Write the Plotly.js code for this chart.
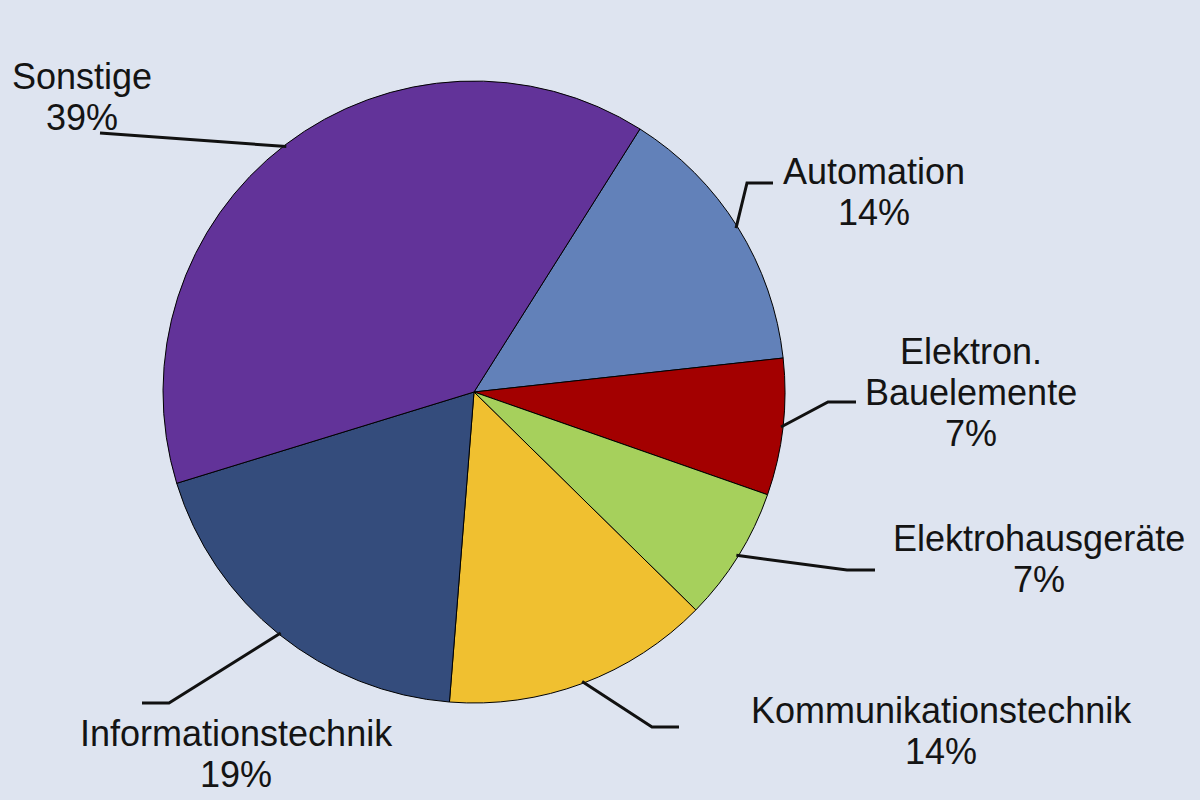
<!DOCTYPE html>
<html>
<head>
<meta charset="utf-8">
<script src="https://cdn.plot.ly/plotly-3.0.1.min.js"></script>
<style>html,body{margin:0;padding:0;background:#dee4f0;}#chart{width:1200px;height:800px;}</style>
</head>
<body>
<div id="chart"></div>
<script>
// Data
var labels = ["Automation", "Elektron. Bauelemente", "Elektrohausgeräte", "Kommunikationstechnik", "Informationstechnik", "Sonstige"];
var labelLines = [["Automation"], ["Elektron.", "Bauelemente"], ["Elektrohausgeräte"], ["Kommunikationstechnik"], ["Informationstechnik"], ["Sonstige"]];
var values = [14.3, 7.1, 7.0, 13.9, 19.0, 38.7];
var colors = ["#6281b9", "#a30000", "#a6d05c", "#f0c030", "#344c7c", "#623399"];

// Layout constants (pixels)
var W = 1200, H = 800;
var cx = 474, cy = 392, R = 311;
var rotation = 32.25;
// label placement: first-line baseline, centre x
var labelPos = [
  {x: 874, y: 183},
  {x: 971, y: 363},
  {x: 1039, y: 550},
  {x: 941, y: 722},
  {x: 236, y: 745},
  {x: 82, y: 89}
];
// leader elbows & ends
var leaders = [
  {ex: 747, ey: 183, tx: 773, ty: 183},
  {ex: 828, ey: 402, tx: 856, ty: 402},
  {ex: 847, ey: 570, tx: 875, ty: 570},
  {ex: 652, ey: 727, tx: 679, ty: 727},
  {ex: 169, ey: 703, tx: 142, ty: 703},
  {ex: 100, ey: 133, tx: 100, ty: 133}
];
var lineGap = 41, fs = 36;

function px(x){ return x / W; }
function py(y){ return 1 - y / H; }

var total = values.reduce(function(a,b){return a+b;}, 0);
var shapes = [], annotations = [];
var cum = 0;
for (var i = 0; i < values.length; i++) {
  var mid = rotation + 360 * (cum + values[i] / 2) / total;
  cum += values[i];
  var a = mid * Math.PI / 180;
  var sx = cx + (R - 2) * Math.sin(a), sy = cy - (R - 2) * Math.cos(a);
  var L = leaders[i];
  var path = 'M' + px(sx) + ',' + py(sy) + ' L' + px(L.ex) + ',' + py(L.ey) + ' L' + px(L.tx) + ',' + py(L.ty);
  shapes.push({type: 'path', xref: 'paper', yref: 'paper', path: path, line: {color: '#111', width: 3}});
  var pct = Math.round(100 * values[i] / total) + '%';
  var lines = labelLines[i].concat([pct]);
  for (var k = 0; k < lines.length; k++) {
    var baseline = labelPos[i].y + k * lineGap;
    annotations.push({
      xref: 'paper', yref: 'paper', x: px(labelPos[i].x), y: py(baseline - 12),
      xanchor: 'center', yanchor: 'middle', showarrow: false,
      text: lines[k], font: {family: 'Liberation Sans, Arial, sans-serif', size: fs, color: '#141414'}
    });
  }
}

var trace = {
  type: 'pie',
  labels: labels,
  values: values,
  sort: false,
  direction: 'clockwise',
  rotation: rotation,
  textinfo: 'none',
  hoverinfo: 'label+percent',
  marker: {colors: colors, line: {color: '#000', width: 1}},
  domain: {x: [(cx - R) / W, (cx + R) / W], y: [(H - cy - R) / H, (H - cy + R) / H]}
};

var layout = {
  width: W, height: H,
  margin: {l: 0, r: 0, t: 0, b: 0},
  paper_bgcolor: '#dee4f0',
  plot_bgcolor: '#dee4f0',
  showlegend: false,
  shapes: shapes,
  annotations: annotations
};

Plotly.newPlot('chart', [trace], layout, {displayModeBar: false, staticPlot: true});
</script>
</body>
</html>
